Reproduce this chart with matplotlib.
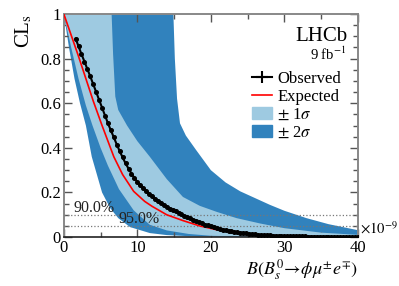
import numpy as np
import matplotlib
matplotlib.use("Agg")
import matplotlib.pyplot as plt
from matplotlib.lines import Line2D
from matplotlib.patches import Patch

plt.rcParams['font.family'] = ['Liberation Serif', 'DejaVu Serif']
plt.rcParams['mathtext.fontset'] = 'stix'

# expected bands (branching fraction in units of 1e-9, CLs)
up2_x = [0, 14.9, 15.1, 15.4, 15.8, 16.6, 18.0, 20.0, 22.0, 24.0, 26.0, 28.0, 30.0, 33.0, 36.0, 40.0]
up2_y = [1.0, 1.0, 0.80, 0.62, 0.51, 0.455, 0.39, 0.30, 0.245, 0.205, 0.175, 0.145, 0.118, 0.085, 0.058, 0.031]
up1_x = [0, 6.5, 6.7, 7.0, 7.4, 8.6, 10.0, 11.7, 14.0, 16.2, 18.5, 20.8, 23.5, 26.7, 30.0, 35.0, 40.0]
up1_y = [1.0, 1.0, 0.82, 0.63, 0.57, 0.50, 0.43, 0.36, 0.26, 0.18, 0.14, 0.113, 0.085, 0.061, 0.04, 0.02, 0.01]
lo1_x = [0, 1.0, 2.0, 3.0, 3.9, 5.0, 6.0, 7.5, 9.5, 11.7, 14.0, 17.0, 20.0, 25.0, 30.0, 40.0]
lo1_y = [1.0, 0.85, 0.71, 0.59, 0.50, 0.40, 0.32, 0.215, 0.12, 0.055, 0.03, 0.014, 0.006, 0.002, 0.001, 0.0]
lo2_x = [0, 0.7, 1.45, 2.2, 3.0, 3.8, 5.2, 6.3, 7.4, 9.0, 11.7, 14.0, 17.0, 20.0, 25.0, 40.0]
lo2_y = [1.0, 0.85, 0.71, 0.60, 0.50, 0.36, 0.20, 0.13, 0.085, 0.045, 0.018, 0.009, 0.004, 0.002, 0.0005, 0.0]

exp_x = [0, 1, 2, 3, 4, 5.2, 6.8, 8, 9.5, 11, 12, 14, 16.2, 18.5, 20.8, 25, 30, 35, 40]
exp_y = [1.0, 0.905, 0.81, 0.71, 0.61, 0.50, 0.36, 0.28, 0.205, 0.16, 0.138, 0.10, 0.074, 0.05, 0.033,
         0.012, 0.004, 0.0015, 0.0005]

# observed scan points, first at 1.6, step 0.4
obs_start, obs_step = 1.6, 0.4
obs_y = [0.89, 0.855, 0.82, 0.787, 0.753, 0.72, 0.685, 0.65, 0.615, 0.58,
         0.545, 0.51, 0.478, 0.447, 0.415, 0.385, 0.357, 0.33, 0.307, 0.285,
         0.265, 0.248, 0.232, 0.218, 0.205, 0.193, 0.182, 0.172, 0.162, 0.153,
         0.144, 0.136, 0.128, 0.121, 0.115, 0.108, 0.102, 0.096, 0.09, 0.084,
         0.078, 0.072, 0.066, 0.061, 0.056, 0.052, 0.048, 0.044, 0.040, 0.037,
         0.034, 0.031, 0.028, 0.026, 0.024, 0.022, 0.020, 0.018, 0.0165, 0.015,
         0.0135, 0.012, 0.011, 0.010, 0.009, 0.0082, 0.0075, 0.0068, 0.0062, 0.0056,
         0.0051, 0.0047, 0.0043, 0.004, 0.0037, 0.0034, 0.0031, 0.0029, 0.0027, 0.0025,
         0.0023, 0.0021, 0.002, 0.0018, 0.0017, 0.0016, 0.0015, 0.0014, 0.0013, 0.0012,
         0.0011, 0.001, 0.001, 0.0009, 0.0009, 0.0008, 0.0008]
obs_x = obs_start + obs_step * np.arange(len(obs_y))

cl_levels = [0.10, 0.05]
cl_labels = ['90.0%', '95.0%']

dark = '#3182bd'
light = '#9ecae1'

fig = plt.figure(figsize=(3.99, 2.86), dpi=100)
ax = fig.add_axes([0.160, 0.171, 0.737, 0.780])

ax.fill(np.concatenate([lo2_x, up2_x[::-1]]), np.concatenate([lo2_y, up2_y[::-1]]),
        color=dark, lw=0, zorder=1)
ax.fill(np.concatenate([lo1_x, up1_x[::-1]]), np.concatenate([lo1_y, up1_y[::-1]]),
        color=light, lw=0, zorder=2)

for lev in cl_levels:
    ax.axhline(lev, color='#777777', ls=':', lw=0.9, zorder=3)
ax.text(1.3, 0.112, cl_labels[0], fontsize=11.5, color='#222222', zorder=6)
ax.text(7.4, 0.064, cl_labels[1], fontsize=11.5, color='#222222', zorder=6)

ax.plot(exp_x, exp_y, color='red', lw=1.2, zorder=4)
ax.plot(obs_x, obs_y, color='black', lw=1.5, marker='o', ms=2.6, zorder=5)

ax.set_xlim(0, 40)
ax.set_ylim(0, 1)
ax.set_xticks([0, 10, 20, 30, 40])
ax.set_xticks(np.arange(0, 41, 5), minor=True)
ax.set_yticks([0, 0.2, 0.4, 0.6, 0.8, 1.0])
ax.set_yticklabels(['0', '0.2', '0.4', '0.6', '0.8', '1'])
ax.set_yticks(np.arange(0, 1.001, 0.05), minor=True)
ax.tick_params(which='both', direction='in', top=True, right=True, labelsize=12,
               color='#555555', pad=2)
ax.tick_params(which='major', length=6, width=1)
ax.tick_params(which='minor', length=3.5, width=1)
for side in ['left', 'right', 'top']:
    ax.spines[side].set_color('#888888')
    ax.spines[side].set_linewidth(1.4)
ax.spines['bottom'].set_color('#222222')
ax.spines['bottom'].set_linewidth(1.2)

ax.set_ylabel(r'CL$_{\mathrm{s}}$', fontsize=15, loc='top', labelpad=4)
ax.set_xlabel(r'$B(B^0_s\!\rightarrow\!\phi\mu^{\pm}e^{\mp})$', fontsize=13, loc='right', labelpad=1)
ax.text(1.008, 0.0, r'$\times10^{-9}$', transform=ax.transAxes, fontsize=10.5, va='bottom', ha='left')

ax.text(0.965, 0.88, 'LHCb', transform=ax.transAxes, fontsize=15, ha='right', va='baseline')
ax.text(0.96, 0.795, r'9 fb$^{-1}$', transform=ax.transAxes, fontsize=10.5, ha='right', va='baseline')

handles = [Line2D([], [], color='black', lw=1.5, marker='+', ms=9, mew=1.5),
           Line2D([], [], color='red', lw=1.2),
           Patch(facecolor=light, edgecolor=light),
           Patch(facecolor=dark, edgecolor=dark)]
labels = ['Observed', 'Expected', r'$\pm$ 1$\sigma$', r'$\pm$ 2$\sigma$']
ax.legend(handles, labels, loc='upper left', bbox_to_anchor=(0.64, 0.745), frameon=False,
          fontsize=12, handlelength=1.2, handletextpad=0.3, labelspacing=0.12,
          borderaxespad=0, borderpad=0)

fig.savefig('out.png', dpi=100)
